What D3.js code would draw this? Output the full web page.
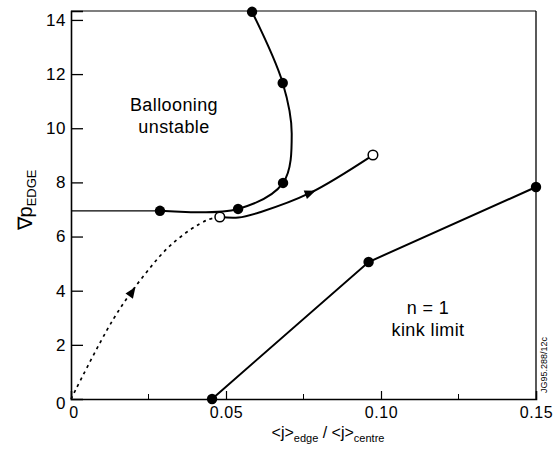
<!DOCTYPE html>
<html>
<head>
<style>
  body {
    margin: 0;
    background-color: #fff;
  }

  text {
    font-family: "Liberation Sans", Arial, sans-serif;
    fill: #000;
  }

  .tick text {
    font-size: 16px;
    letter-spacing: 0.6px;
  }

  .y-axis .tick text {
    font-size: 17px;
  }
</style>
  <script src="https://d3js.org/d3.v7.min.js"></script>
</head>
<body>
<script>
  // ticks
  const xTickValues = [0, 0.05, 0.10, 0.15];
  const xTickLabels = ['0', '0.05', '0.10', '0.15'];
  const xMinorTicks = [0.025, 0.075, 0.125];
  const yTickValues = [0, 2, 4, 6, 8, 10, 12, 14];

  // ballooning boundary (solid), dots at the marked points
  const balloonX = [0, 0.0287, 0.0539, 0.0684, 0.0712, 0.0683, 0.0584];
  const balloonY = [6.95, 6.95, 7.02, 7.98, 9.8, 11.67, 14.3];
  const balloonDots = [1, 2, 3, 5, 6];

  // operating trajectory, solid part between the two open circles
  const trajX = [0.048, 0.054, 0.061, 0.0771, 0.0974];
  const trajY = [6.72, 6.70, 6.9, 7.61, 9.01];

  // dotted part of the trajectory from the origin
  const dottedX = [0, 0.0135, 0.0229, 0.0329, 0.0439, 0.048];
  const dottedY = [0, 2.92, 4.47, 5.76, 6.61, 6.72];

  // n = 1 kink limit
  const kinkX = [0.0455, 0.096, 0.15];
  const kinkY = [0, 5.06, 7.83];

  // arrow heads on the trajectory
  const arrowX = [0.0771, 0.0197];
  const arrowY = [7.61, 3.95];
  const arrowFrom = [[0.061, 6.9], [0.0135, 2.92]];

  const width = 559;
  const height = 454;
  const frame = {left: 71, right: 536, top: 11, bottom: 399};

  const svg = d3.select('body')
    .append('svg')
    .attr('width', width)
    .attr('height', height);

  const x = d3.scaleLinear()
    .domain([0, 0.15])
    .range([frame.left, frame.right]);

  const y = d3.scaleLinear()
    .domain([0, 14.33])
    .range([frame.bottom, frame.top]);

  const zip = (xs, ys) => xs.map((d, i) => [d, ys[i]]);

  // frame
  svg.append('line')
    .attr('x1', frame.left).attr('x2', frame.right)
    .attr('y1', frame.top).attr('y2', frame.top)
    .attr('stroke', '#000').attr('stroke-width', 1.2);
  svg.append('line')
    .attr('x1', frame.right).attr('x2', frame.right)
    .attr('y1', frame.top).attr('y2', frame.bottom)
    .attr('stroke', '#000').attr('stroke-width', 1.3);

  // axes with inward ticks
  const yAxis = svg.append('g')
    .attr('class', 'y-axis')
    .attr('transform', `translate(${frame.left},0)`)
    .call(d3.axisLeft(y)
      .tickValues(yTickValues)
      .tickSize(-12)
      .tickPadding(5)
      .tickFormat(d3.format('d')));
  yAxis.select('.domain').attr('stroke-width', 1.6);
  yAxis.selectAll('.tick line').attr('stroke-width', 1.3);
  yAxis.selectAll('.tick').filter(d => d === 0).select('line').remove();
  yAxis.selectAll('.tick').filter(d => d === 0).select('text').attr('dy', '0.55em');

  const xAxis = svg.append('g')
    .attr('transform', `translate(0,${frame.bottom})`)
    .call(d3.axisBottom(x)
      .tickValues(xTickValues)
      .tickSize(-8)
      .tickPadding(8)
      .tickFormat((d, i) => xTickLabels[i]));
  xAxis.select('.domain').attr('stroke-width', 1.6);
  xAxis.selectAll('.tick line').attr('stroke-width', 1.2);
  xAxis.selectAll('.tick').filter(d => d === 0 || d === 0.15).select('line').remove();
  xAxis.selectAll('.tick').filter(d => d === 0).select('text').attr('dx', '0.15em');

  svg.append('g')
    .selectAll('line')
    .data(xMinorTicks)
    .join('line')
      .attr('x1', d => x(d)).attr('x2', d => x(d))
      .attr('y1', frame.bottom).attr('y2', frame.bottom - 5)
      .attr('stroke', '#000').attr('stroke-width', 1);

  // curves
  const lineCurve = d3.line()
    .x(d => x(d[0]))
    .y(d => y(d[1]))
    .curve(d3.curveCatmullRom.alpha(0.5));

  const lineStraight = d3.line()
    .x(d => x(d[0]))
    .y(d => y(d[1]));

  const balloon = zip(balloonX, balloonY);

  svg.append('path')
    .attr('d', lineStraight(balloon.slice(0, 2)))
    .attr('fill', 'none').attr('stroke', '#000').attr('stroke-width', 1.3);
  svg.append('path')
    .attr('d', lineCurve(balloon.slice(1)))
    .attr('fill', 'none').attr('stroke', '#000').attr('stroke-width', 2);

  svg.append('path')
    .attr('d', lineCurve(zip(trajX, trajY)))
    .attr('fill', 'none').attr('stroke', '#000').attr('stroke-width', 2);

  svg.append('path')
    .attr('d', lineCurve(zip(dottedX, dottedY)))
    .attr('fill', 'none').attr('stroke', '#000').attr('stroke-width', 1.7)
    .attr('stroke-dasharray', '3,4');

  svg.append('path')
    .attr('d', lineStraight(zip(kinkX, kinkY)))
    .attr('fill', 'none').attr('stroke', '#000').attr('stroke-width', 2);

  // arrow heads
  arrowX.forEach((ax, i) => {
    const px = x(ax);
    const py = y(arrowY[i]);
    const angle = Math.atan2(py - y(arrowFrom[i][1]), px - x(arrowFrom[i][0])) * 180 / Math.PI;
    svg.append('path')
      .attr('d', 'M6,0 L-5,-4.5 L-5,4.5 Z')
      .attr('transform', `translate(${px},${py}) rotate(${angle})`)
      .attr('fill', '#000');
  });

  // markers
  svg.append('g')
    .selectAll('circle')
    .data(balloonDots.map(i => balloon[i]).concat(zip(kinkX, kinkY)))
    .join('circle')
      .attr('cx', d => x(d[0]))
      .attr('cy', d => y(d[1]))
      .attr('r', 5.2)
      .attr('fill', '#000');

  const traj = zip(trajX, trajY);
  svg.append('g')
    .selectAll('circle')
    .data([traj[0], traj[traj.length - 1]])
    .join('circle')
      .attr('cx', d => x(d[0]))
      .attr('cy', d => y(d[1]))
      .attr('r', 4.8)
      .attr('fill', '#fff')
      .attr('stroke', '#000')
      .attr('stroke-width', 1.5);

  // annotations
  const note = (lines, cx, baselines, size) => {
    lines.forEach((t, i) => {
      svg.append('text')
        .attr('x', cx)
        .attr('y', baselines[i])
        .attr('text-anchor', 'middle')
        .style('font-size', size + 'px')
        .style('letter-spacing', '0.4px')
        .text(t);
    });
  };
  note(['Ballooning', 'unstable'], 174, [111, 133], 18);
  note(['n = 1', 'kink limit'], 428, [314, 336], 18);

  // axis titles
  const xTitle = svg.append('text')
    .attr('x', 328)
    .attr('y', 438)
    .attr('text-anchor', 'middle')
    .style('font-size', '16px');
  xTitle.append('tspan').text('<j>');
  xTitle.append('tspan').attr('dy', 4).style('font-size', '11px').text('edge');
  xTitle.append('tspan').attr('dy', -4).text(' / <j>');
  xTitle.append('tspan').attr('dy', 4).style('font-size', '11px').text('centre');

  const yTitle = svg.append('text')
    .attr('transform', 'translate(32,200) rotate(-90)')
    .attr('text-anchor', 'middle')
    .style('font-size', '20px');
  yTitle.append('tspan').text('∇p');
  yTitle.append('tspan').attr('dy', 4).style('font-size', '13px').text('EDGE');

  svg.append('text')
    .attr('transform', 'translate(547,365) rotate(-90)')
    .attr('text-anchor', 'middle')
    .style('font-size', '9px')
    .text('JG95.288/12c');
</script>
</body>
</html>
